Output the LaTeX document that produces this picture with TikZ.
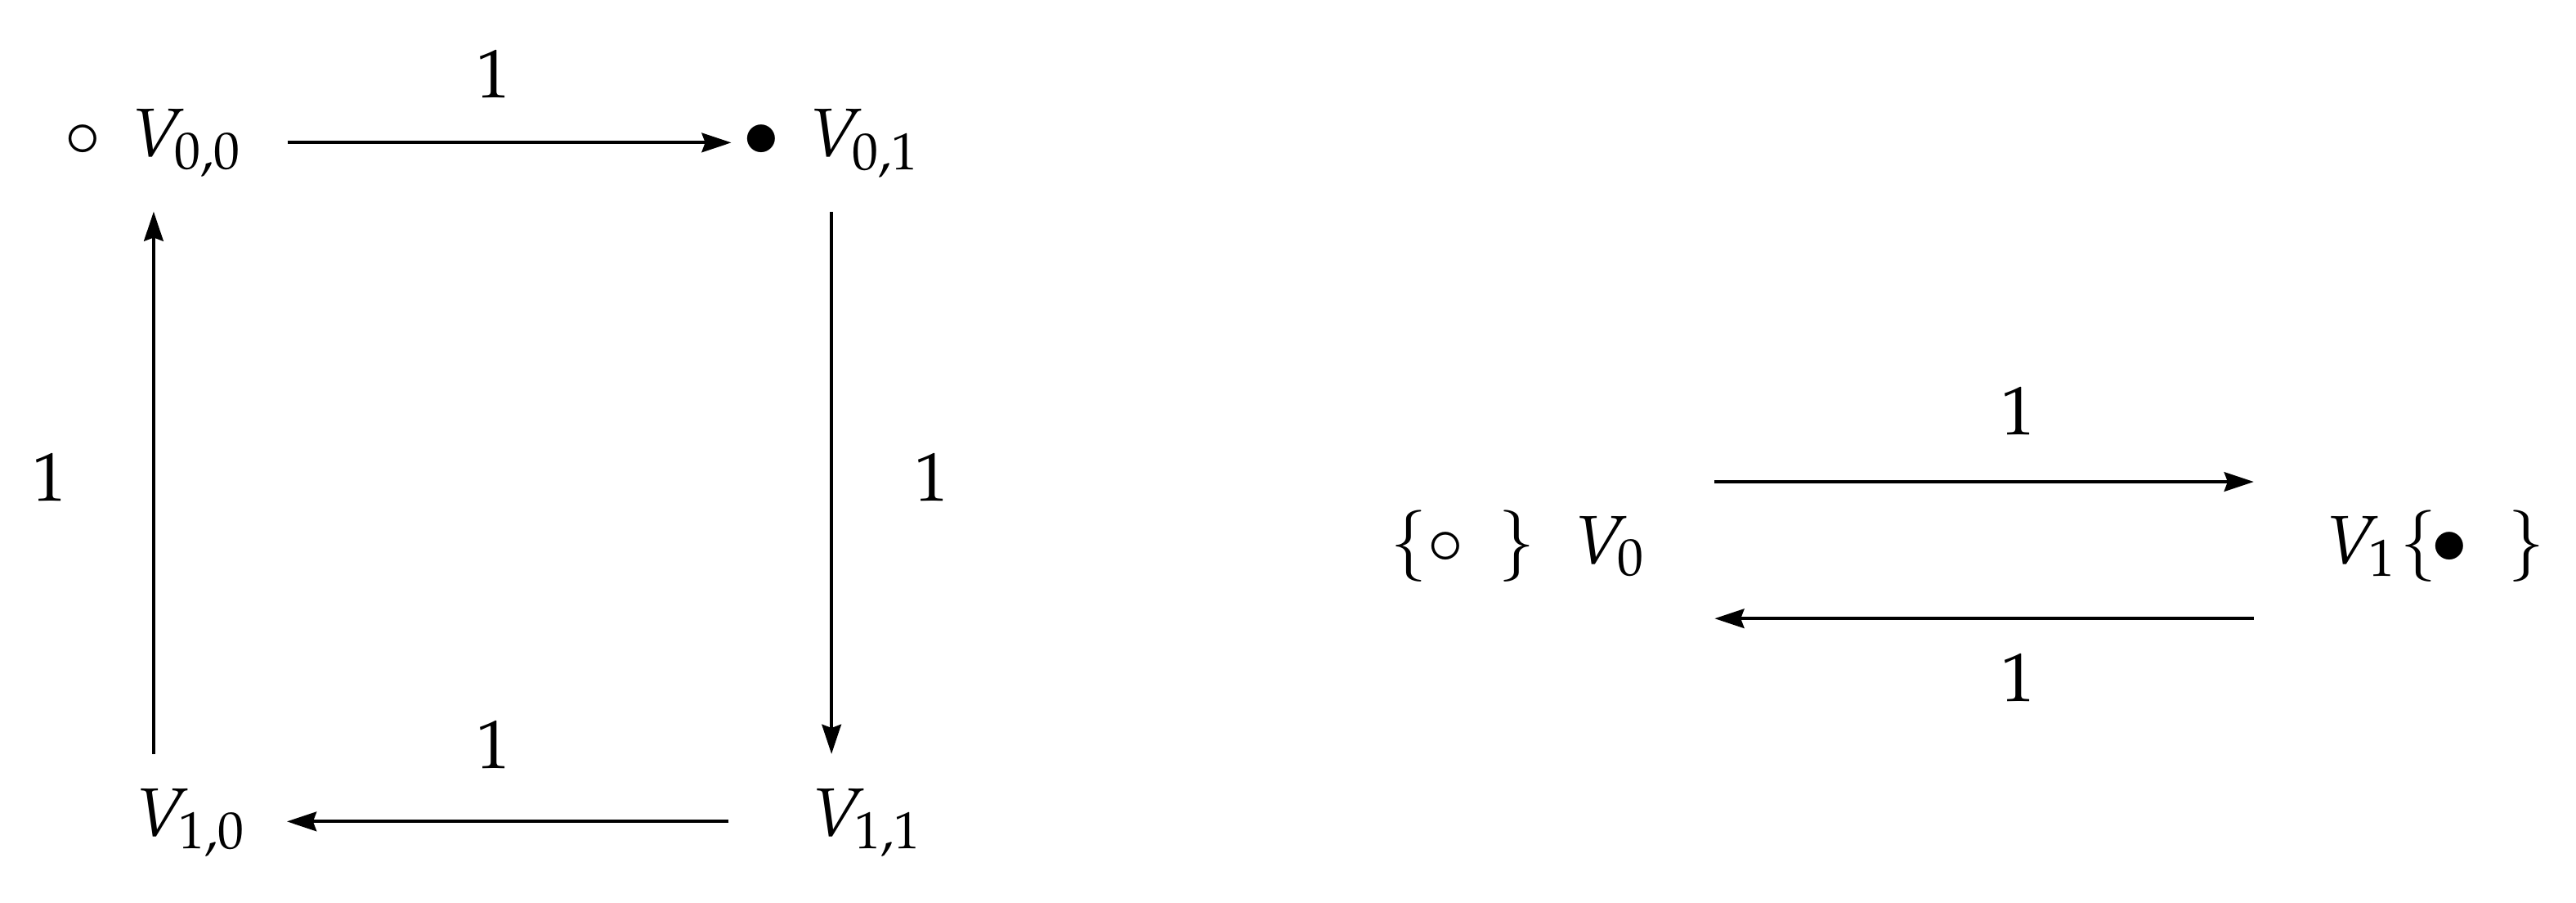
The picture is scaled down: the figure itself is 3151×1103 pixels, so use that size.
\documentclass[tikz,border=0pt]{standalone}
\usepackage{mathpazo}
\usetikzlibrary{arrows.meta}
\begin{document}
\begin{tikzpicture}[x=0.119048pt,y=-0.119048pt,
  every node/.style={inner sep=0pt, outer sep=0pt},
  vlabel/.style={anchor=base west},
  arr/.style={line width=0.5pt, -{Stealth[length=4.3pt,width=2.8pt,inset=0.5pt]}}]
\useasboundingbox (0,0) rectangle (3151,1103);
% left square
\node[vlabel] (v00) at (78,192) {$\circ$\hspace{4.5pt}$V_{0,0}$};
\node[vlabel] (v01) at (908,192) {$\bullet$\hspace{4.3pt}$V_{0,1}$};
\node[vlabel] (v10) at (166,1022) {$V_{1,0}$};
\node[vlabel] (v11) at (993,1022) {$V_{1,1}$};
\node (l1) at (603,90) {$1$};
\node (l2) at (1139,583) {$1$};
\node (l3) at (603,910) {$1$};
\node (l4) at (60,583) {$1$};
\draw[arr, shorten <=6.4pt, shorten >=1.6pt] ([yshift=2.1pt]v00.base east) -- ([yshift=2.1pt]v01.base west);
\draw[arr, shorten <=5pt, shorten >=5pt] (v01.south) -- (v01.south |- v11.north);
\draw[arr, shorten <=12.1pt, shorten >=5.8pt] ([yshift=2.1pt]v11.base west) -- ([yshift=2.1pt]v10.base east);
\draw[arr, shorten <=5pt, shorten >=5pt] (v00.south |- v10.north) -- (v00.south);
% right pair
\node[vlabel] (w0) at (1700,689) {$\{\circ$\hspace{4.8pt}$\}$\hspace{5.7pt}$V_0$};
\node[vlabel] (w1) at (2845,689) {$V_1$\hspace{0.3pt}$\{$\hspace{-1pt}$\bullet$\hspace{5.8pt}$\}$};
\node (m1) at (2468,502) {$1$};
\node (m2) at (2468,828) {$1$};
\draw[arr, shorten <=9.9pt, shorten >=10.5pt] ([yshift=11.9pt]w0.base east) -- ([yshift=11.9pt]w1.base west);
\draw[arr, shorten <=10.5pt, shorten >=9.9pt] ([yshift=-8pt]w1.base west) -- ([yshift=-8pt]w0.base east);
\end{tikzpicture}
\end{document}
